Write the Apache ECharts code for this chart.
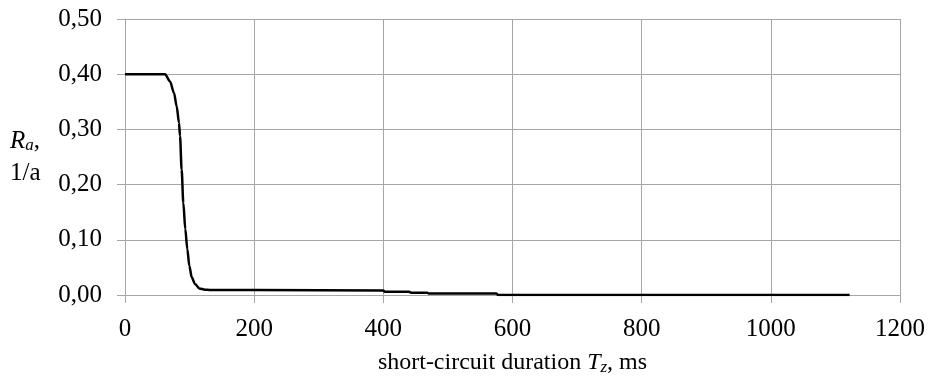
<!DOCTYPE html>
<html>
<head>
<meta charset="utf-8">
<script src="https://cdn.jsdelivr.net/npm/echarts@6/dist/echarts.min.js"></script>
<style>
  html, body { margin: 0; padding: 0; background: #fff; }
  #chart { width: 932px; height: 381px; }
</style>
</head>
<body>
<div id="chart"></div>
<script>
// short-circuit duration, ms
var durationMs = [0, 58, 62, 69.7, 75.9, 80, 83.6, 85.2, 87.7, 90.3, 93.4, 96.5, 99.6, 103.3, 108.4, 115, 123.9, 131.6,
                  200, 400, 402, 440, 443, 468, 471, 575, 578, 1122];
// R_a, 1/a
var rateValues = [0.40, 0.40, 0.40, 0.387, 0.366, 0.342, 0.312, 0.288, 0.227, 0.167, 0.119, 0.083, 0.053, 0.032, 0.020, 0.012, 0.0096, 0.009,
                  0.009, 0.008, 0.006, 0.006, 0.004, 0.004, 0.0025, 0.0025, 0, 0];

var xTicks = [0, 200, 400, 600, 800, 1000, 1200];
var yTicks = [0, 0.1, 0.2, 0.3, 0.4, 0.5];

var points = [];
for (var i = 0; i < durationMs.length; i++) {
    points.push([durationMs[i], rateValues[i]]);
}

var font = '"Liberation Serif", "Times New Roman", serif';
var gridColor = '#a6a6a6';

var myChart = echarts.init(document.getElementById('chart'));
var option = {
    animation: false,
    textStyle: { fontFamily: font, color: '#000' },
    grid: { left: 125, right: 32, top: 19, bottom: 85 },
    xAxis: {
        type: 'value',
        min: xTicks[0],
        max: xTicks[xTicks.length - 1],
        interval: 200,
        name: '{n|short-circuit duration }{i|T}{sub|z}{n|, ms}',
        nameLocation: 'middle',
        nameGap: 55,
        nameTextStyle: {
            rich: {
                n: { fontFamily: font, fontSize: 24, color: '#000' },
                i: { fontFamily: font, fontSize: 24, fontStyle: 'italic', color: '#000' },
                sub: { fontFamily: font, fontSize: 17, fontStyle: 'italic', color: '#000', padding: [9, 0, 0, 0] }
            }
        },
        axisLine: { show: true, lineStyle: { color: gridColor, width: 1 } },
        axisTick: { show: true, length: 8, lineStyle: { color: gridColor } },
        axisLabel: {
            fontFamily: font, fontSize: 25, color: '#000', margin: 22,
            formatter: function (v) { return String(v); }
        },
        splitLine: { show: true, lineStyle: { color: gridColor, width: 1 } }
    },
    yAxis: {
        type: 'value',
        min: yTicks[0],
        max: yTicks[yTicks.length - 1],
        interval: 0.1,
        name: '{i|R}{sub|a}{n|,}\n{n|1/a}',
        nameLocation: 'middle',
        nameRotate: 0,
        nameGap: 83,
        nameTextStyle: {
            align: 'left',
            padding: [0, 0, 0, -32],
            rich: {
                n: { fontFamily: font, fontSize: 25, color: '#000', lineHeight: 32 },
                i: { fontFamily: font, fontSize: 25, fontStyle: 'italic', color: '#000', lineHeight: 32 },
                sub: { fontFamily: font, fontSize: 17, fontStyle: 'italic', color: '#000', padding: [9, 0, 0, 0], lineHeight: 32 }
            }
        },
        axisLine: { show: true, lineStyle: { color: gridColor, width: 1 } },
        axisTick: { show: true, length: 8, lineStyle: { color: gridColor } },
        axisLabel: {
            fontFamily: font, fontSize: 25, color: '#000', margin: 23,
            formatter: function (v) { return v.toFixed(2).replace('.', ','); }
        },
        splitLine: { show: true, lineStyle: { color: gridColor, width: 1 } }
    },
    series: [{
        type: 'line',
        data: points,
        showSymbol: false,
        smooth: 0.3,
        smoothMonotone: 'x',
        lineStyle: { color: '#000', width: 2.5 }
    }]
};
myChart.setOption(option);
</script>
</body>
</html>
